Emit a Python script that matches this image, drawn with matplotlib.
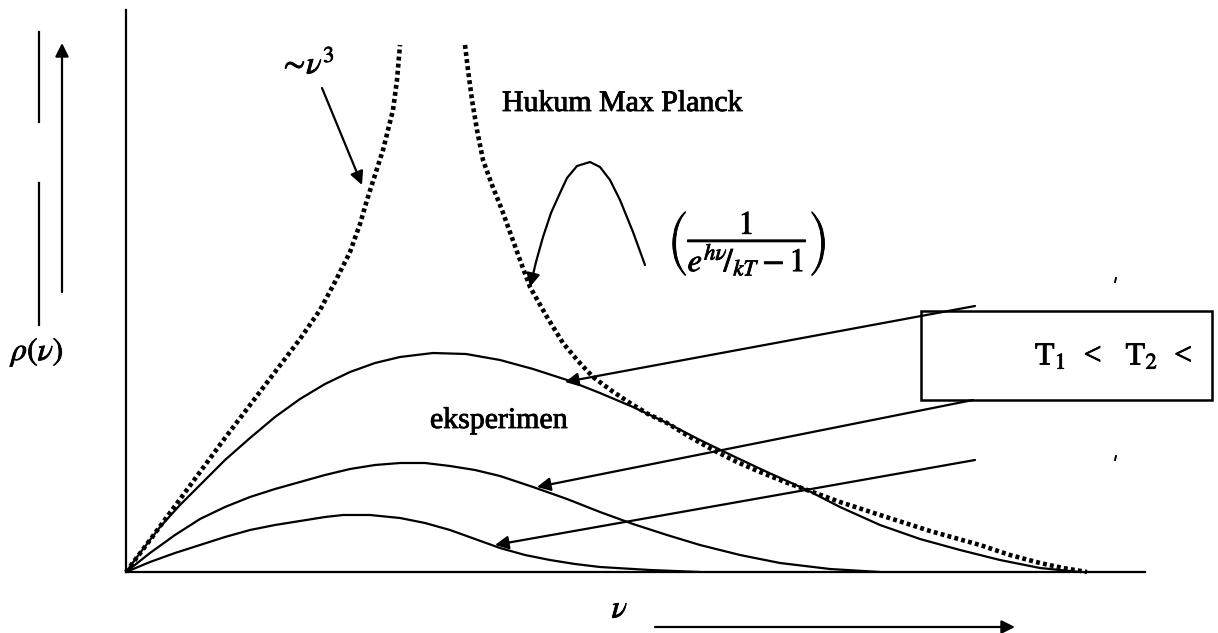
import matplotlib
matplotlib.use('Agg')
import matplotlib.pyplot as plt
import matplotlib.patheffects as pe
from matplotlib.patches import Rectangle

plt.rcParams['font.family'] = ['Liberation Serif', 'DejaVu Serif']
plt.rcParams['mathtext.fontset'] = 'stix'

# Rayleigh-Jeans branch (~nu^3), rising from the origin
rj_nu = [0, 0.24, 0.49, 0.74, 0.99, 1.24, 1.49, 1.74, 1.94, 2.09, 2.24,
         2.34, 2.41, 2.49, 2.57, 2.62, 2.67, 2.71, 2.74]
rj_rho = [0, 0.32, 0.66, 1.00, 1.34, 1.67, 2.00, 2.33, 2.62, 2.90, 3.20,
          3.48, 3.72, 3.97, 4.22, 4.42, 4.62, 4.92, 5.27]

# Planck law (1 / (e^(hv/kT) - 1)) branch, falling to the axis
pl_nu = [3.39, 3.42, 3.46, 3.51, 3.57, 3.66, 3.76, 3.85, 3.94, 4.04, 4.21,
         4.37, 4.52, 4.67, 4.86, 5.04, 5.22, 5.41, 5.64, 5.87, 6.11, 6.34,
         6.59, 6.81, 7.14, 7.54, 8.04, 8.54, 8.84, 9.14, 9.37, 9.61]
pl_rho = [5.27, 5.02, 4.72, 4.42, 4.12, 3.87, 3.62, 3.37, 3.12, 2.85, 2.55,
          2.29, 2.11, 1.95, 1.81, 1.69, 1.58, 1.49, 1.35, 1.22, 1.10, 1.00,
          0.90, 0.82, 0.70, 0.57, 0.41, 0.27, 0.17, 0.09, 0.04, 0.0]

# experimental curves for three temperatures
t3_nu = [0, 0.14, 0.34, 0.54, 0.74, 0.99, 1.24, 1.49, 1.74, 1.99, 2.24,
         2.49, 2.74, 3.07, 3.40, 3.74, 4.07, 4.41, 4.74, 5.07, 5.41, 5.74,
         6.07, 6.41, 6.81, 7.14, 7.54, 7.94, 8.34, 8.74, 9.14, 9.54]
t3_rho = [0, 0.19, 0.45, 0.67, 0.87, 1.12, 1.34, 1.55, 1.73, 1.88, 2.00,
          2.09, 2.15, 2.19, 2.18, 2.12, 2.03, 1.92, 1.79, 1.65, 1.49, 1.32,
          1.16, 1.00, 0.82, 0.65, 0.47, 0.33, 0.22, 0.12, 0.04, 0.0]

t2_nu = [0, 0.24, 0.49, 0.74, 0.99, 1.24, 1.49, 1.74, 1.99, 2.24, 2.49,
         2.74, 2.99, 3.24, 3.49, 3.74, 4.07, 4.41, 4.74, 5.07, 5.41, 5.74,
         6.14, 6.54, 7.04, 7.54]
t2_rho = [0, 0.19, 0.37, 0.53, 0.65, 0.75, 0.83, 0.90, 0.97, 1.03, 1.07,
          1.09, 1.09, 1.06, 1.02, 0.96, 0.85, 0.73, 0.60, 0.48, 0.37, 0.27,
          0.17, 0.09, 0.03, 0.0]

t1_nu = [0, 0.24, 0.49, 0.74, 0.99, 1.24, 1.49, 1.74, 1.99, 2.17, 2.44,
         2.74, 2.99, 3.24, 3.49, 3.74, 3.99, 4.24, 4.49, 4.74, 5.24, 5.74]
t1_rho = [0, 0.10, 0.19, 0.27, 0.35, 0.42, 0.47, 0.51, 0.55, 0.57, 0.57,
          0.54, 0.49, 0.42, 0.33, 0.24, 0.17, 0.12, 0.08, 0.05, 0.02, 0.0]

# small bell sketch next to the Planck factor
bell_nu = [5.19, 5.07, 4.94, 4.84, 4.74, 4.64, 4.51, 4.41, 4.34, 4.25,
           4.17, 4.10, 4.04]
bell_rho = [3.07, 3.40, 3.72, 3.92, 4.05, 4.10, 4.06, 3.94, 3.79, 3.59,
            3.35, 3.10, 2.85]

fig = plt.figure(figsize=(12.18, 6.33), dpi=100)
ax = fig.add_axes([126 / 1218, 61 / 633, 1019 / 1218, 562 / 633])
ax.set_xlim(0, 10.19)
ax.set_ylim(0, 5.62)
for s in ['top', 'right']:
    ax.spines[s].set_visible(False)
for s in ['left', 'bottom']:
    ax.spines[s].set_linewidth(1.6)
ax.set_xticks([])
ax.set_yticks([])

line_kw = dict(color='black', lw=1.6, solid_joinstyle='round',
               solid_capstyle='round')
dots = (0, (0.85, 0.7))
ax.plot(rj_nu, rj_rho, color='black', lw=3.3, linestyle=dots, clip_on=False)
ax.plot(pl_nu, pl_rho, color='black', lw=3.3, linestyle=dots, clip_on=False)

for nu, rho in [(t3_nu, t3_rho), (t2_nu, t2_rho), (t1_nu, t1_rho)]:
    ax.plot(nu, rho, **line_kw)

arrow = dict(arrowstyle='-|>', color='black', lw=1.6, mutation_scale=20,
             shrinkA=0, shrinkB=0)

# arrows from the temperature box to each curve
ax.annotate('', xy=(4.39, 1.90), xytext=(8.49, 2.66), arrowprops=arrow,
            annotation_clip=False)
ax.annotate('', xy=(4.11, 0.85), xytext=(8.47, 1.72), arrowprops=arrow,
            annotation_clip=False)
ax.annotate('', xy=(3.69, 0.27), xytext=(8.49, 1.12), arrowprops=arrow,
            annotation_clip=False)

# ~nu^3 pointer
ax.annotate('', xy=(2.36, 3.87), xytext=(1.96, 4.84), arrowprops=arrow,
            annotation_clip=False)

# bell sketch ending in an arrow onto the Planck curve
ax.plot(bell_nu[:-1], bell_rho[:-1], **line_kw)
ax.annotate('', xy=(bell_nu[-1], bell_rho[-1]),
            xytext=(bell_nu[-2], bell_rho[-2]), arrowprops=arrow)

heavy = [pe.withStroke(linewidth=0.6, foreground='black')]

# temperature box
ax.add_patch(Rectangle((7.95, 1.72), 2.91, 0.89, fill=False, lw=1.8,
                       edgecolor='black', clip_on=False))
ax.text(9.09, 2.15, r'T$_1$  <   T$_2$  <', fontsize=23, va='center',
        ha='left', path_effects=heavy)

ax.text(3.76, 4.68, 'Hukum Max Planck', fontsize=21.5, va='center',
        ha='left', path_effects=heavy)
ax.text(3.04, 1.51, 'eksperimen', fontsize=21.5, va='center', ha='left',
        path_effects=heavy)
ax.text(1.81, 5.07, r'$\sim\!\nu^3$', fontsize=23, va='center',
        ha='center', path_effects=heavy)
ax.text(5.42, 3.28, r'$\left(\dfrac{1}{e^{h\nu}\!/_{kT}-1}\right)$',
        fontsize=23.5, va='center', ha='left', path_effects=heavy)

# axis labels and direction arrows outside the plot area
ax.text(-0.88, 2.20, r'$\rho(\nu)$', fontsize=23, va='center',
        ha='center', path_effects=heavy)
ax.text(4.94, -0.38, r'$\nu$', fontsize=23, va='center', ha='center',
        path_effects=heavy)
ax.annotate('', xy=(-0.64, 5.29), xytext=(-0.64, 2.80), arrowprops=arrow,
            annotation_clip=False)
ax.annotate('', xy=(8.89, -0.55), xytext=(5.29, -0.55), arrowprops=arrow,
            annotation_clip=False)
ax.plot([-0.87, -0.87], [4.50, 5.40], color='black', lw=1.6, clip_on=False)
ax.plot([-0.87, -0.87], [2.47, 3.89], color='black', lw=1.6, clip_on=False)

# stray marks beside the box
ax.plot([9.89, 9.90], [2.90, 2.94], color='black', lw=1.4, clip_on=False)
ax.plot([9.89, 9.90], [1.12, 1.16], color='black', lw=1.4, clip_on=False)

fig.savefig('out.png', dpi=100)
